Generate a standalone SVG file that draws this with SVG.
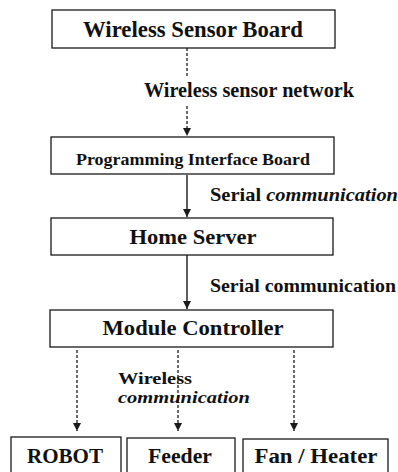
<svg xmlns="http://www.w3.org/2000/svg" width="398" height="472" viewBox="0 0 398 472">
<defs>
<marker id="ah" viewBox="0 0 8 10" refX="8" refY="5" markerWidth="8" markerHeight="10" markerUnits="userSpaceOnUse" orient="auto">
<path d="M0,1 L8,5 L0,9 Z" fill="#1a1a1a"/>
</marker>
<style>
.box{fill:#fff;stroke:#1a1a1a;stroke-width:1.3}
.c{text-anchor:middle}
.solid{stroke:#1a1a1a;stroke-width:1.4;fill:none}
.dash{stroke:#1a1a1a;stroke-width:1.3;fill:none;stroke-dasharray:3 2}
.it{font-style:italic}
</style>
</defs>
<rect width="398" height="472" fill="#fff"/>
<g font-family="Liberation Serif" font-weight="bold" fill="#111">
<g id="connectors">
<line class="dash" x1="187" y1="48" x2="187" y2="78"/>
<line class="dash" x1="187" y1="106" x2="187" y2="136" marker-end="url(#ah)"/>
<line class="solid" x1="187" y1="175" x2="187" y2="217" marker-end="url(#ah)"/>
<line class="solid" x1="187" y1="255" x2="187" y2="309" marker-end="url(#ah)"/>
<line class="dash" x1="77" y1="350" x2="77" y2="431" marker-end="url(#ah)"/>
<line class="dash" x1="178" y1="350" x2="178" y2="431" marker-end="url(#ah)"/>
<line class="dash" x1="294" y1="350" x2="294" y2="431" marker-end="url(#ah)"/>
<text x="144" y="97" font-size="20" textLength="210" lengthAdjust="spacingAndGlyphs">Wireless sensor network</text>
<text x="210" y="201" font-size="19" textLength="188" lengthAdjust="spacingAndGlyphs">Serial <tspan class="it">communication</tspan></text>
<text x="210" y="292" font-size="19" textLength="186" lengthAdjust="spacingAndGlyphs">Serial communication</text>
<text x="118" y="384" font-size="17" textLength="74" lengthAdjust="spacingAndGlyphs">Wireless</text>
<text class="it" x="118" y="403" font-size="17" textLength="132" lengthAdjust="spacingAndGlyphs">communication</text>
</g>
<g id="wireless-sensor-board">
<rect class="box" x="52" y="10" width="283" height="38"/>
<text class="c" x="193" y="37" font-size="22.5" textLength="220" lengthAdjust="spacingAndGlyphs">Wireless Sensor Board</text>
</g>
<g id="programming-interface-board">
<rect class="box" x="51" y="137" width="283" height="37"/>
<text class="c" x="193" y="165" font-size="17" textLength="234" lengthAdjust="spacingAndGlyphs">Programming Interface Board</text>
</g>
<g id="home-server">
<rect class="box" x="51" y="218" width="282" height="37"/>
<text class="c" x="193" y="244" font-size="22" textLength="127" lengthAdjust="spacingAndGlyphs">Home Server</text>
</g>
<g id="module-controller">
<rect class="box" x="50" y="310" width="283" height="37"/>
<text class="c" x="193" y="335" font-size="22" textLength="181" lengthAdjust="spacingAndGlyphs">Module Controller</text>
</g>
<g id="robot">
<rect class="box" x="11" y="437" width="110" height="40"/>
<text class="c" x="65" y="463" font-size="21" textLength="76" lengthAdjust="spacingAndGlyphs">ROBOT</text>
</g>
<g id="feeder">
<rect class="box" x="127" y="438" width="108" height="40"/>
<text class="c" x="180" y="463" font-size="21" textLength="64" lengthAdjust="spacingAndGlyphs">Feeder</text>
</g>
<g id="fan-heater">
<rect class="box" x="243" y="439" width="145" height="40"/>
<text class="c" x="316" y="463" font-size="21" textLength="123" lengthAdjust="spacingAndGlyphs">Fan / Heater</text>
</g>
</g>
</svg>
